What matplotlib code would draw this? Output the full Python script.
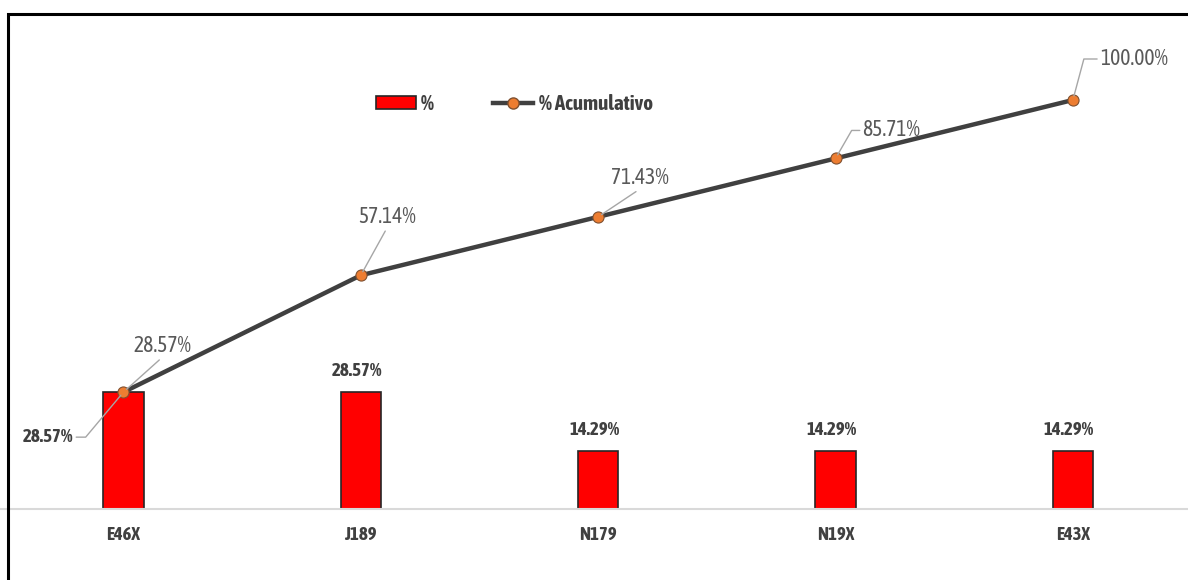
import matplotlib
matplotlib.use("Agg")
import matplotlib.pyplot as plt
from matplotlib.lines import Line2D
from matplotlib.patches import Rectangle

categories = ["E46X", "J189", "N179", "N19X", "E43X"]
pct = [28.57, 28.57, 14.29, 14.29, 14.29]
cum_pct = [28.57, 57.14, 71.43, 85.71, 100.00]

FONT = ["Asap Condensed", "DejaVu Sans"]
plt.rcParams["font.family"] = FONT

fig = plt.figure(figsize=(11.88, 5.8), dpi=100)
ax = fig.add_axes([0.0, (580 - 509) / 580, 1.0, (509 - 14) / 580])
x = list(range(len(categories)))
ax.set_xlim(-0.52, 4.485)
ax.set_ylim(0, 495 / 4.09)

ax.bar(x, pct, width=0.17, color="#ff0000", edgecolor="#262626", linewidth=1.2, zorder=2)
ax.plot(x, cum_pct, color="#404040", linewidth=3.2, marker="o", markersize=8,
        markerfacecolor="#ed7d31", markeredgecolor="#7f5030", markeredgewidth=0.8,
        zorder=3, solid_capstyle="round")

for s in ["top", "right", "left"]:
    ax.spines[s].set_visible(False)
ax.spines["bottom"].set_color("#d9d9d9")
ax.spines["bottom"].set_linewidth(1.5)
ax.set_yticks([])
ax.set_xticks(x)
ax.set_xticklabels(categories, fontsize=13.5, fontweight="bold", color="#404040")
ax.tick_params(axis="x", length=0, pad=12)

lead = dict(arrowstyle="-", color="#a6a6a6", lw=1, shrinkA=0, shrinkB=3)

# bar labels
for i, v in enumerate(pct):
    if i == 0:
        ax.annotate(f"{v:.2f}%", xy=(i, v), xytext=(-50, -45), textcoords="offset pixels",
                    ha="right", va="center", fontsize=13.5, fontweight="bold", color="#404040",
                    arrowprops=dict(lead, relpos=(1, 0.5),
                                    connectionstyle="angle,angleA=0,angleB=50,rad=0"),
                    annotation_clip=False)
    else:
        ax.annotate(f"{v:.2f}%", xy=(i, v), xytext=(-4, 21), textcoords="offset pixels",
                    ha="center", va="center", fontsize=13.5, fontweight="bold", color="#404040")

# cumulative labels
cum_offsets = [(39, 46, "c"), (26, 58, "c"), (42, 39, "c"), (27, 28, "l"), (27, 41, "l")]
for i, v in enumerate(cum_pct):
    dx, dy, mode = cum_offsets[i]
    if mode == "l":
        ang = {3: 60, 4: 75}[i]
        ax.annotate(f"{v:.2f}%", xy=(i, v), xytext=(dx, dy), textcoords="offset pixels",
                    ha="left", va="center", fontsize=15.5, color="#595959",
                    arrowprops=dict(lead, relpos=(0, 0.5),
                                    connectionstyle=f"angle,angleA=0,angleB={ang},rad=0"),
                    annotation_clip=False)
    else:
        ax.annotate(f"{v:.2f}%", xy=(i, v), xytext=(dx, dy), textcoords="offset pixels",
                    ha="center", va="center", fontsize=15.5, color="#595959",
                    arrowprops=dict(lead, relpos=(0.5, 0)),
                    annotation_clip=False)

# legend
handles = [Rectangle((0, 0), 1, 1, facecolor="#ff0000", edgecolor="#262626", linewidth=1.2),
           Line2D([], [], color="#404040", linewidth=3.2, marker="o", markersize=8,
                  markerfacecolor="#ed7d31", markeredgecolor="#7f5030")]
leg = fig.legend(handles, ["%", "% Acumulativo"], loc="center left",
                 bbox_to_anchor=(357 / 1188, 1 - 104 / 580), ncol=2, frameon=False,
                 prop=dict(family=FONT, weight="bold", size=15), labelcolor="#404040",
                 handlelength=1.92, handleheight=0.63, columnspacing=2.85, handletextpad=0.25)

# outer border (left and top visible)
fig.add_artist(Rectangle((8 / 1188, -0.05), 1.2, 1 - 14 / 580 + 0.05, transform=fig.transFigure,
                         fill=False, edgecolor="black", linewidth=2.2))

fig.savefig("out.png", dpi=100)
